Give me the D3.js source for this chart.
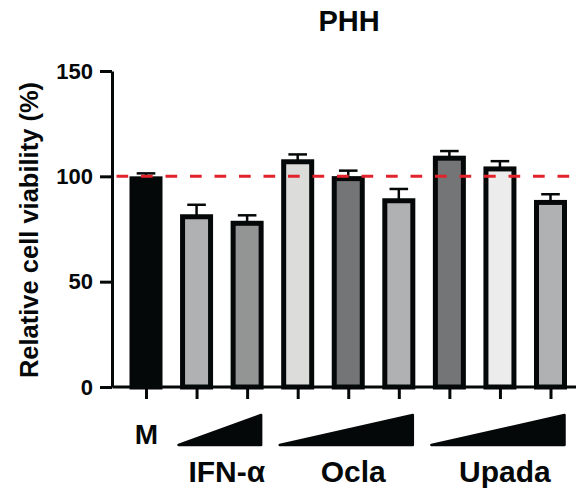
<!DOCTYPE html>
<html>
<head>
<meta charset="utf-8">
<script src="https://cdn.jsdelivr.net/npm/d3@7"></script>
<style>
  html, body { margin: 0; padding: 0; background: #fff; }
  svg { display: block; font-family: "Liberation Sans", Arial, Helvetica, sans-serif; }
</style>
</head>
<body>
<svg id="chart" width="578" height="495"></svg>
<script>
// Treatment conditions, in plotting order
const categories = ["M", "IFN-α 1", "IFN-α 2", "Ocla 1", "Ocla 2", "Ocla 3", "Upada 1", "Upada 2", "Upada 3"];
// Mean relative viability (%) and its error
const means  = [100.0, 82.0, 78.9, 108.1, 100.1, 89.6, 109.8, 104.7, 88.8];
const errors = [1.4, 4.5, 2.6, 2.3, 2.6, 4.4, 2.2, 2.5, 2.7];
const fills  = ["#050809", "#b0b1b3", "#939594", "#dcdcdb", "#747577", "#b0b1b3", "#747577", "#ececed", "#b0b1b3"];
// Dose groups drawn as ramps under the axis
const groups = [
  { name: "IFN-α", first: "IFN-α 1", last: "IFN-α 2" },
  { name: "Ocla",  first: "Ocla 1",  last: "Ocla 3" },
  { name: "Upada", first: "Upada 1", last: "Upada 3" }
];
const yTicks = [0, 50, 100, 150];
const refLine = 100;

const svg = d3.select("#chart");
const ink = "#050808";
const font = "Liberation Sans, Arial, sans-serif";

const y = d3.scaleLinear().domain([0, 150]).range([387, 71]);
const x = d3.scalePoint().domain(categories).range([146, 550.5]);
const barW = 33, sw = 5;

// Title
svg.append("text").attr("x", 349).attr("y", 30.5).attr("text-anchor", "middle")
  .attr("font-size", 29).attr("font-weight", "bold").attr("fill", ink).text("PHH");

// Y axis
const yAxis = svg.append("g").attr("transform", "translate(112,0)")
  .call(d3.axisLeft(y).tickValues(yTicks).tickSize(12).tickPadding(7).tickSizeOuter(0));
yAxis.select(".domain").attr("stroke", ink).attr("stroke-width", 3);
yAxis.selectAll(".tick line").attr("stroke", ink).attr("stroke-width", 3);
yAxis.selectAll(".tick text").attr("font-size", 22).attr("font-weight", "bold")
  .attr("fill", ink).attr("font-family", font);

svg.append("text")
  .attr("transform", "translate(37.5,230) rotate(-90)")
  .attr("text-anchor", "middle").attr("font-size", 25.5).attr("font-weight", "bold")
  .attr("fill", ink).text("Relative cell viability (%)");

// Error bars (upper only)
const eb = svg.append("g");
categories.forEach((c, i) => {
  const cx = x(c);
  eb.append("line").attr("x1", cx).attr("x2", cx)
    .attr("y1", y(means[i]) + 2).attr("y2", y(means[i] + errors[i]))
    .attr("stroke", ink).attr("stroke-width", 2.5);
  eb.append("line").attr("x1", cx - 9.3).attr("x2", cx + 9.3)
    .attr("y1", y(means[i] + errors[i])).attr("y2", y(means[i] + errors[i]))
    .attr("stroke", ink).attr("stroke-width", 2.5);
});

// Bars
svg.append("g").selectAll("rect").data(categories).join("rect")
  .attr("x", d => x(d) - barW / 2 + sw / 2)
  .attr("width", barW - sw)
  .attr("y", (d, i) => y(means[i]) + sw / 2)
  .attr("height", (d, i) => y(0) - y(means[i]) - sw / 2)
  .attr("fill", (d, i) => fills[i])
  .attr("stroke", ink).attr("stroke-width", sw);

// Reference line at 100 %
svg.append("line").attr("x1", 116.5).attr("x2", 578)
  .attr("y1", y(refLine)).attr("y2", y(refLine))
  .attr("stroke", "#e3232b").attr("stroke-width", 3).attr("stroke-dasharray", "11.7,12.8");

// X axis
const xAxis = svg.append("g").attr("transform", `translate(0,${y(0)})`)
  .call(d3.axisBottom(x).tickSize(12).tickFormat("").tickSizeOuter(0));
xAxis.select(".domain").attr("d", "M112.5,0H576").attr("stroke", ink).attr("stroke-width", 3);
xAxis.selectAll(".tick line").attr("stroke", ink).attr("stroke-width", 3);

// Medium label
svg.append("text").attr("x", x("M") + 0.5).attr("y", 444).attr("text-anchor", "middle")
  .attr("font-size", 28).attr("font-weight", "bold").attr("fill", ink).text("M");

// Dose ramps and group labels
groups.forEach(g => {
  const x0 = x(g.first) - 18, x1 = x(g.last) + 14;
  svg.append("path")
    .attr("d", `M${x0},445 L${x1},445 L${x1},415 Z`)
    .attr("fill", ink).attr("stroke", ink).attr("stroke-width", 2.5).attr("stroke-linejoin", "round");
  svg.append("text").attr("x", (x(g.first) + x(g.last)) / 2 + 5).attr("y", 482)
    .attr("text-anchor", "middle")
    .attr("font-size", 30).attr("font-weight", "bold").attr("fill", ink).text(g.name);
});
</script>
</body>
</html>
